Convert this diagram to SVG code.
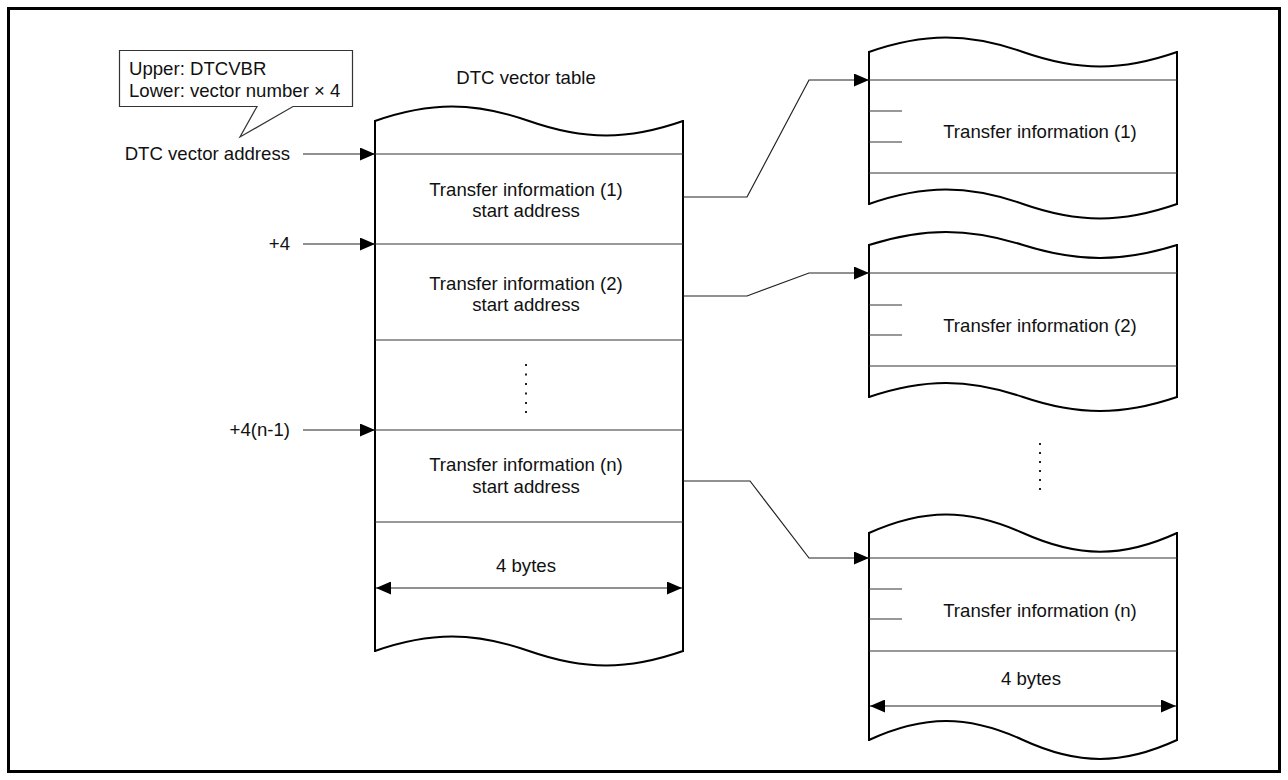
<svg xmlns="http://www.w3.org/2000/svg" width="1288" height="780" viewBox="0 0 1288 780">
<style>
text{font-family:"Liberation Sans",Arial,sans-serif;font-size:18.6px;fill:#111}
.c{text-anchor:middle}
.e{text-anchor:end}
.ol{fill:none;stroke:#000;stroke-width:2}
.in{fill:none;stroke:#333;stroke-width:1.2}
.cn{fill:none;stroke:#222;stroke-width:1.2}
.dot{fill:#222}
</style>
<defs>
<marker id="ah" viewBox="0 0 15 13" refX="15" refY="6.5" markerWidth="15" markerHeight="13" markerUnits="userSpaceOnUse" orient="auto-start-reverse">
<path d="M0,0 L15,6.5 L0,13 Z" fill="#000"/>
</marker>
</defs>
<rect x="8.5" y="8.5" width="1271" height="763" fill="#fff" stroke="#000" stroke-width="3"/>

<g id="callout">
<path d="M119.5,50.5 H352.5 V106.5 H293 L240,137 L257,106.5 H119.5 Z" fill="#fff" stroke="#333" stroke-width="1.2"/>
<text x="129" y="75">Upper: DTCVBR</text>
<text x="129" y="97">Lower: vector number × 4</text>
</g>

<g id="labels-left">
<text class="e" x="290" y="160">DTC vector address</text>
<text class="e" x="290" y="250">+4</text>
<text class="e" x="290" y="436">+4(n-1)</text>
</g>

<g id="vector-table">
<text class="c" x="526" y="84">DTC vector table</text>
<path class="ol" d="M375,121 C430,101.7 474,101.7 529,121 S628,140.3 683,121"/>
<path class="ol" d="M375,651 C430,631.7 474,631.7 529,651 S628,670.3 683,651"/>
<line class="ol" x1="375" y1="120" x2="375" y2="652"/>
<line class="ol" x1="683" y1="120" x2="683" y2="652"/>
<line class="in" x1="375" y1="154" x2="683" y2="154"/>
<line class="in" x1="375" y1="244" x2="683" y2="244"/>
<line class="in" x1="375" y1="340" x2="683" y2="340"/>
<line class="in" x1="375" y1="430" x2="683" y2="430"/>
<line class="in" x1="375" y1="522" x2="683" y2="522"/>
<text class="c" x="526" y="196">Transfer information (1)</text>
<text class="c" x="526" y="217">start address</text>
<text class="c" x="526" y="290">Transfer information (2)</text>
<text class="c" x="526" y="311">start address</text>
<text class="c" x="526" y="471">Transfer information (n)</text>
<text class="c" x="526" y="493">start address</text>
<g class="dot">
<rect x="525" y="364" width="2" height="2"/>
<rect x="525" y="373.5" width="2" height="2"/>
<rect x="525" y="383" width="2" height="2"/>
<rect x="525" y="392.5" width="2" height="2"/>
<rect x="525" y="402" width="2" height="2"/>
<rect x="525" y="411" width="2" height="2"/>
</g>
<text class="c" x="526" y="572">4 bytes</text>
<line class="cn" x1="376" y1="588" x2="682" y2="588" marker-start="url(#ah)" marker-end="url(#ah)"/>
</g>

<g id="transfer-info-1">
<path class="ol" d="M869,52 C924,32.7 968,32.7 1023,52 S1122,71.3 1177,52"/>
<path class="ol" d="M869,204 C924,184.7 968,184.7 1023,204 S1122,223.3 1177,204"/>
<line class="ol" x1="869" y1="51" x2="869" y2="205"/>
<line class="ol" x1="1177" y1="51" x2="1177" y2="205"/>
<line class="in" x1="869" y1="80" x2="1177" y2="80"/>
<line class="in" x1="869" y1="173" x2="1177" y2="173"/>
<line class="in" x1="869" y1="111" x2="902" y2="111"/>
<line class="in" x1="869" y1="142" x2="902" y2="142"/>
<text class="c" x="1040" y="138">Transfer information (1)</text>
</g>

<g id="transfer-info-2">
<path class="ol" d="M869,245 C924,227.7 968,227.7 1023,245 S1122,262.3 1177,245"/>
<path class="ol" d="M869,397 C924,378.3 968,378.3 1023,397 S1122,415.7 1177,397"/>
<line class="ol" x1="869" y1="244" x2="869" y2="398"/>
<line class="ol" x1="1177" y1="244" x2="1177" y2="398"/>
<line class="in" x1="869" y1="273" x2="1177" y2="273"/>
<line class="in" x1="869" y1="366" x2="1177" y2="366"/>
<line class="in" x1="869" y1="305" x2="902" y2="305"/>
<line class="in" x1="869" y1="335" x2="902" y2="335"/>
<text class="c" x="1040" y="332">Transfer information (2)</text>
</g>

<g id="ellipsis-right" class="dot">
<rect x="1039" y="443" width="2" height="2"/>
<rect x="1039" y="452" width="2" height="2"/>
<rect x="1039" y="461" width="2" height="2"/>
<rect x="1039" y="470" width="2" height="2"/>
<rect x="1039" y="479" width="2" height="2"/>
<rect x="1039" y="488" width="2" height="2"/>
</g>

<g id="transfer-info-n">
<path class="ol" d="M869,533 C924,508.3 968,508.3 1023,533 S1122,558.3 1177,533"/>
<path class="ol" d="M869,740 C924,714.7 968,714.7 1023,740 S1122,765.3 1177,740"/>
<line class="ol" x1="869" y1="532" x2="869" y2="741"/>
<line class="ol" x1="1177" y1="532" x2="1177" y2="741"/>
<line class="in" x1="869" y1="558" x2="1177" y2="558"/>
<line class="in" x1="869" y1="651" x2="1177" y2="651"/>
<line class="in" x1="869" y1="589" x2="902" y2="589"/>
<line class="in" x1="869" y1="619" x2="902" y2="619"/>
<text class="c" x="1040" y="617">Transfer information (n)</text>
<text class="c" x="1031" y="685">4 bytes</text>
<line class="cn" x1="870" y1="706" x2="1176" y2="706" marker-start="url(#ah)" marker-end="url(#ah)"/>
</g>

<g id="connectors">
<line class="cn" x1="303" y1="154" x2="375" y2="154" marker-end="url(#ah)"/>
<line class="cn" x1="303" y1="244" x2="375" y2="244" marker-end="url(#ah)"/>
<line class="cn" x1="303" y1="430" x2="375" y2="430" marker-end="url(#ah)"/>
<polyline class="cn" points="683,197 747,197 809,80 869,80" marker-end="url(#ah)"/>
<polyline class="cn" points="683,296 747,296 809,273 869,273" marker-end="url(#ah)"/>
<polyline class="cn" points="683,481 750,481 809,558 869,558" marker-end="url(#ah)"/>
</g>
</svg>
